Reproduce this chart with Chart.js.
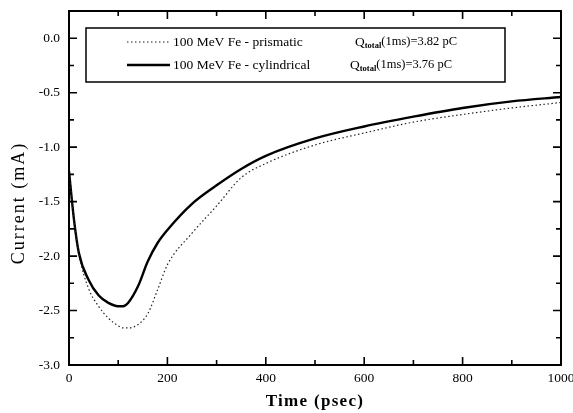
<!DOCTYPE html>
<html>
<head>
<meta charset="utf-8">
<script src="https://cdn.jsdelivr.net/npm/chart.js@4.4.0/dist/chart.umd.min.js"></script>
<style>
  html, body { margin: 0; padding: 0; background: #fff; }
  #wrap { width: 573px; height: 413px; }
</style>
</head>
<body>
<div id="wrap"><canvas id="chart" width="573" height="413"></canvas></div>
<script>
// values
const times = [0, 10, 20, 40, 60, 80, 100, 110, 120, 140, 160, 180, 200, 250, 300, 350, 400, 500, 600, 700, 800, 900, 1000];
const prismatic = [-1.22, -1.66, -1.98, -2.30, -2.46, -2.57, -2.64, -2.66, -2.66, -2.63, -2.53, -2.31, -2.08, -1.79, -1.54, -1.28, -1.15, -0.98, -0.87, -0.77, -0.70, -0.64, -0.59];
const cylindrical = [-1.22, -1.66, -1.97, -2.22, -2.36, -2.43, -2.46, -2.46, -2.43, -2.28, -2.05, -1.88, -1.76, -1.52, -1.35, -1.20, -1.08, -0.92, -0.81, -0.72, -0.64, -0.58, -0.54];
const seriesNames = ["100 MeV Fe - prismatic", "100 MeV Fe - cylindrical"];
const charges = ["(1ms)=3.82 pC", "(1ms)=3.76 pC"];
const xTicks = [0, 200, 400, 600, 800, 1000];
const yTicks = [-3.0, -2.5, -2.0, -1.5, -1.0, -0.5, 0.0];
const xTitle = "Time (psec)";
const yTitle = "Current (mA)";

const serif = "'Liberation Serif', 'Times New Roman', serif";

function pts(ys) {
  return times.map((t, i) => ({ x: t, y: ys[i] }));
}

function minors(ticks) {
  const out = [];
  for (let i = 0; i < ticks.length - 1; i++) out.push((ticks[i] + ticks[i + 1]) / 2);
  return out;
}

// frame with inward ticks on all four sides, plus spaced axis titles
const framePlugin = {
  id: "frame",
  afterDatasetsDraw(chart) {
    const { ctx, chartArea: a, scales } = chart;
    const xs = scales.x, ys = scales.y;
    ctx.save();
    ctx.strokeStyle = "#000";
    ctx.lineWidth = 2;
    ctx.strokeRect(a.left, a.top, a.right - a.left, a.bottom - a.top);
    ctx.lineWidth = 1.6;
    ctx.beginPath();
    const xt = xTicks.map(v => [v, 8]).concat(minors(xTicks).map(v => [v, 5]));
    xt.forEach(([v, len]) => {
      const px = xs.getPixelForValue(v);
      ctx.moveTo(px, a.bottom); ctx.lineTo(px, a.bottom - len);
      ctx.moveTo(px, a.top); ctx.lineTo(px, a.top + len);
    });
    const yt = yTicks.map(v => [v, 8]).concat(minors(yTicks).map(v => [v, 5]));
    yt.forEach(([v, len]) => {
      const py = ys.getPixelForValue(v);
      ctx.moveTo(a.left, py); ctx.lineTo(a.left + len, py);
      ctx.moveTo(a.right, py); ctx.lineTo(a.right - len, py);
    });
    ctx.stroke();

    ctx.fillStyle = "#000";
    ctx.textAlign = "center";
    ctx.textBaseline = "middle";
    ctx.font = "bold 17px " + serif;
    ctx.letterSpacing = "1.3px";
    ctx.fillText(xTitle, (a.left + a.right) / 2, a.bottom + 37);
    ctx.save();
    ctx.translate(19, a.top + 192);
    ctx.rotate(-Math.PI / 2);
    ctx.font = "18px " + serif;
    ctx.letterSpacing = "2px";
    ctx.fillText(yTitle, 0, 0);
    ctx.restore();
    ctx.letterSpacing = "0px";
    ctx.restore();
  }
};

// boxed legend with Q_total subscript
const legendPlugin = {
  id: "boxLegend",
  afterDatasetsDraw(chart) {
    const { ctx, chartArea: a } = chart;
    const bx = a.left + 17, by = a.top + 17, bw = 419, bh = 54;
    ctx.save();
    ctx.fillStyle = "#fff";
    ctx.fillRect(bx, by, bw, bh);
    ctx.strokeStyle = "#000";
    ctx.lineWidth = 1.5;
    ctx.strokeRect(bx, by, bw, bh);
    const rowY = [by + 14, by + 37];
    const qX = [bx + 269, bx + 264];
    chart.data.datasets.forEach((ds, i) => {
      const y = rowY[i];
      ctx.beginPath();
      ctx.strokeStyle = ds.borderColor;
      ctx.lineWidth = ds.borderWidth;
      ctx.setLineDash(ds.borderDash || []);
      ctx.moveTo(bx + 41, y);
      ctx.lineTo(bx + 84, y);
      ctx.stroke();
      ctx.setLineDash([]);
      ctx.fillStyle = "#000";
      ctx.textBaseline = "middle";
      ctx.font = "13.5px " + serif;
      ctx.fillText(seriesNames[i], bx + 87, y);
      let x = qX[i];
      ctx.fillText("Q", x, y);
      x += ctx.measureText("Q").width;
      ctx.font = "bold 8.5px " + serif;
      ctx.fillText("total", x, y + 4);
      x += ctx.measureText("total").width;
      ctx.font = "12.5px " + serif;
      ctx.fillText(charges[i], x, y);
    });
    ctx.restore();
  }
};

new Chart(document.getElementById("chart"), {
  type: "line",
  data: {
    datasets: [
      {
        label: seriesNames[0],
        data: pts(prismatic),
        borderColor: "#222",
        borderWidth: 1.2,
        borderDash: [1.5, 2.5],
        pointRadius: 0,
        fill: false,
        cubicInterpolationMode: "monotone"
      },
      {
        label: seriesNames[1],
        data: pts(cylindrical),
        borderColor: "#000",
        borderWidth: 2.4,
        pointRadius: 0,
        fill: false,
        cubicInterpolationMode: "monotone"
      }
    ]
  },
  options: {
    responsive: false,
    animation: false,
    layout: { padding: { left: 0, right: 12, top: 11, bottom: 0 } },
    plugins: {
      legend: { display: false },
      tooltip: { enabled: false }
    },
    scales: {
      x: {
        type: "linear",
        min: 0,
        max: 1000,
        afterBuildTicks: s => { s.ticks = xTicks.map(v => ({ value: v })); },
        afterFit: s => { s.height = 48; s.paddingRight = 0; s.paddingLeft = 0; },
        grid: { display: false, drawTicks: false },
        border: { display: false },
        ticks: {
          color: "#000",
          padding: 5,
          maxRotation: 0,
          font: { family: serif, size: 13.5 },
          callback: v => String(v)
        },
        title: { display: false }
      },
      y: {
        min: -3.0,
        max: 0.25,
        afterBuildTicks: s => { s.ticks = yTicks.map(v => ({ value: v })); },
        afterFit: s => { s.width = 69; s.paddingTop = 0; s.paddingBottom = 0; },
        grid: { display: false, drawTicks: false },
        border: { display: false },
        ticks: {
          color: "#000",
          padding: 9,
          font: { family: serif, size: 13.5 },
          callback: v => v.toFixed(1)
        },
        title: { display: false }
      }
    }
  },
  plugins: [framePlugin, legendPlugin]
});
</script>
</body>
</html>
